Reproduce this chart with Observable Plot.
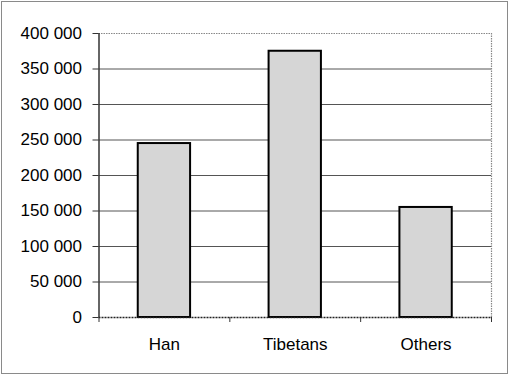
<!DOCTYPE html>
<html>
<head>
<meta charset="utf-8">
<script src="https://cdn.jsdelivr.net/npm/d3@7"></script>
<script src="https://cdn.jsdelivr.net/npm/@observablehq/plot@0.6"></script>
<style>
  html, body { margin: 0; padding: 0; background: #fff; }
  #chart svg { display: block; outline: 1.5px solid #8a8a8a; outline-offset: -2px; }
</style>
</head>
<body>
<div id="chart"></div>
<script>
const categories = ["Han", "Tibetans", "Others"];
const values = [245000, 375000, 155000];
const yTicks = [0, 50000, 100000, 150000, 200000, 250000, 300000, 350000, 400000];

const data = categories.map((c, i) => ({ category: c, index: i, value: values[i] }));
const gridTicks = yTicks.filter(t => t > 0 && t < 400000);
const fmt = d3.formatLocale({ decimal: ".", thousands: "\u00a0", grouping: [3], currency: ["", ""] }).format(",");
const bounds = d3.range(categories.length + 1);
const centers = categories.map((c, i) => i + 0.5);

const font = "'Liberation Sans', Arial, sans-serif";

const chart = Plot.plot({
  width: 509,
  height: 375,
  marginLeft: 98.5,
  marginRight: 18,
  marginTop: 33,
  marginBottom: 58,
  style: { fontFamily: font, fontSize: "17px", color: "#000", background: "#fff" },
  x: { type: "linear", domain: [0, categories.length], axis: null },
  y: { domain: [0, 400000], axis: null },
  marks: [
    Plot.ruleY(gridTicks, { stroke: "#555", strokeWidth: 1 }),
    Plot.ruleY([400000], { stroke: "#888", strokeWidth: 1.2, strokeDasharray: "1.5,1" }),
    Plot.ruleX([categories.length], { stroke: "#888", strokeWidth: 1.2, strokeDasharray: "1.5,1" }),
    Plot.rectY(data, {
      x1: d => d.index + 0.3,
      x2: d => d.index + 0.7,
      y1: 0,
      y2: "value",
      fill: "#d6d6d6",
      stroke: "#000",
      strokeWidth: 2
    }),
    Plot.axisY({
      ticks: yTicks,
      tickSize: 6,
      tickPadding: 11,
      tickFormat: fmt,
      stroke: "#333",
      fontSize: 17,
      label: null
    }),
    Plot.ruleX([0], { stroke: "#333", strokeWidth: 1.5 }),
    Plot.ruleY([0], { stroke: "#222", strokeWidth: 1.5, strokeDasharray: "2,1" }),
    Plot.axisX({ ticks: bounds, tickSize: 5, tickFormat: () => "", stroke: "#333", label: null }),
    Plot.axisX({
      ticks: centers,
      tickSize: 0,
      tickPadding: 20,
      tickFormat: (d) => categories[Math.floor(d)],
      fontSize: 17,
      label: null
    })
  ]
});
document.getElementById("chart").append(chart);
</script>
</body>
</html>
